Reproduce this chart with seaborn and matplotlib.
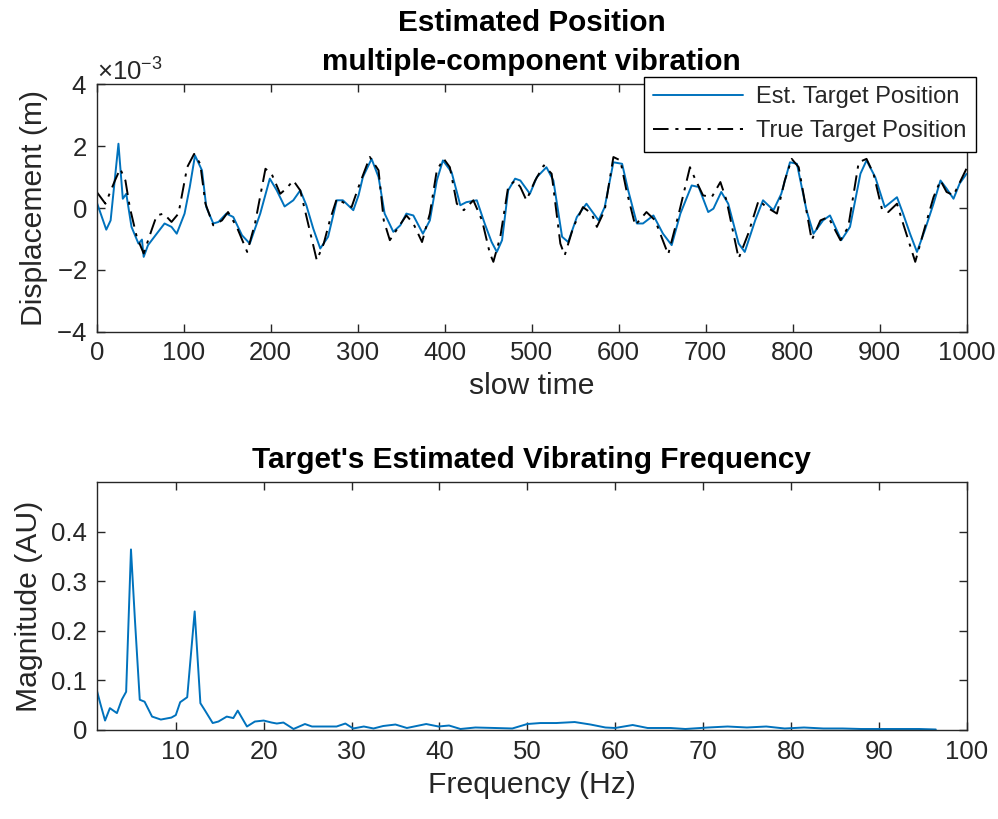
import numpy as np
import pandas as pd
import matplotlib
matplotlib.use("Agg")
import matplotlib.pyplot as plt
from matplotlib.ticker import ScalarFormatter, FixedLocator
import seaborn as sns

# ---------------- data ----------------
# Top panel: slow time samples and displacement (units of 1e-3 m)
est_t = [0, 11, 16, 25, 30, 34, 40, 48, 52, 54,
         59, 69, 78, 86, 92, 101, 107, 113, 121, 126,
         134, 140, 149, 157, 167, 176, 188, 199, 207, 216,
         226, 234, 241, 249, 257, 266, 276, 283, 295, 301,
         306, 316, 324, 331, 341, 349, 356, 364, 375, 383,
         391, 398, 408, 418, 425, 437, 446, 454, 460, 466,
         473, 481, 487, 498, 506, 517, 525, 535, 542, 552,
         563, 577, 584, 594, 604, 611, 621, 628, 640, 651,
         661, 671, 684, 692, 703, 709, 718, 726, 738, 745,
         757, 766, 778, 787, 797, 805, 816, 824, 835, 843,
         856, 866, 878, 885, 895, 906, 920, 927, 935, 943,
         952, 962, 970, 977, 985, 992, 1000]
est_v = [0.19, -0.70, -0.40, 2.08, 0.30, 0.46, -0.61, -1.15, -1.02, -1.58,
         -1.20, -0.83, -0.50, -0.61, -0.83, -0.18, 0.68, 1.70, 1.22, 0.03,
         -0.50, -0.45, -0.18, -0.29, -0.88, -1.15, -0.18, 0.95, 0.57, 0.05,
         0.25, 0.57, 0.09, -0.67, -1.31, -0.93, 0.25, 0.25, -0.07, 0.41,
         1.00, 1.59, 1.00, -0.18, -0.77, -0.56, -0.18, -0.24, -0.83, -0.40,
         0.89, 1.54, 1.16, 0.09, 0.19, 0.25, -0.50, -1.10, -1.42, -1.04,
         0.57, 0.95, 0.89, 0.46, 1.00, 1.32, 0.89, -0.93, -1.10, -0.29,
         0.14, -0.40, 0.03, 1.48, 1.43, 0.57, -0.50, -0.50, -0.24, -0.83,
         -1.20, -0.18, 0.73, 0.68, -0.13, -0.02, 0.52, 0.14, -1.15, -1.42,
         -0.40, 0.25, -0.07, 0.46, 1.48, 1.43, -0.07, -0.83, -0.40, -0.24,
         -1.04, -0.61, 1.11, 1.54, 1.00, 0.03, 0.35, -0.18, -0.83, -1.42,
         -0.72, 0.14, 0.89, 0.63, 0.30, 0.79, 1.11]

true_t = [0, 10, 21, 27, 33, 38, 46, 54, 63, 69,
          77, 86, 94, 104, 112, 119, 125, 134, 144, 151,
          161, 173, 182, 194, 201, 211, 218, 226, 234, 243,
          253, 261, 268, 276, 286, 293, 301, 314, 324, 330,
          337, 347, 356, 364, 374, 383, 391, 399, 406, 414,
          422, 433, 443, 452, 456, 464, 473, 481, 487, 494,
          504, 514, 523, 533, 538, 548, 559, 569, 575, 584,
          594, 602, 609, 619, 632, 642, 657, 669, 682, 687,
          697, 707, 717, 724, 738, 749, 761, 770, 782, 791,
          799, 807, 822, 832, 841, 855, 864, 876, 885, 893,
          903, 910, 920, 927, 941, 950, 962, 970, 977, 985,
          1000]
true_v = [0.52, 0.14, 0.89, 1.27, 0.89, 0.03, -0.93, -1.47, -0.72, -0.24,
          -0.18, -0.45, -0.18, 1.32, 1.75, 1.43, 0.14, -0.56, -0.40, -0.13,
          -0.61, -1.42, -0.50, 1.27, 1.11, 0.46, 0.63, 0.89, 0.57, -0.50,
          -1.69, -1.15, -0.40, 0.30, 0.14, 0.03, 0.68, 1.65, 1.22, -0.40,
          -1.04, -0.61, -0.24, -0.50, -1.10, -0.18, 1.22, 1.59, 1.32, 0.14,
          -0.07, 0.25, -0.40, -1.47, -1.74, -0.93, 0.68, 0.89, 0.68, 0.25,
          0.89, 1.38, 1.11, -1.15, -1.53, -0.61, 0.03, -0.18, -0.61, -0.07,
          1.65, 1.54, 0.57, -0.56, -0.13, -0.40, -1.50, -0.20, 1.32, 1.00,
          0.41, 0.35, 0.84, 0.25, -1.63, -0.83, 0.25, 0.03, -0.18, 0.89,
          1.59, 1.32, -1.04, -0.40, -0.29, -1.04, -0.61, 1.48, 1.59, 1.11,
          -0.07, -0.13, 0.14, -0.50, -1.74, -0.83, 0.35, 0.89, 0.52, 0.41,
          1.28]

# Bottom panel: spectrum
freq = [1.0, 1.4, 1.95, 2.5, 3.3, 3.85, 4.35, 4.9, 5.35, 5.9,
        6.45, 7.3, 8.3, 9.5, 10.0, 10.5, 11.3, 12.15, 12.8, 13.3,
        14.2, 14.85, 15.8, 16.55, 17.05, 18.1, 19.0, 20.0, 20.9, 21.5,
        22.25, 23.4, 24.7, 25.5, 26.8, 28.3, 29.3, 30.2, 31.4, 32.5,
        33.6, 35.0, 36.3, 38.5, 39.9, 41.1, 42.4, 44.1, 46.3, 48.3,
        50.0, 51.5, 53.3, 55.4, 57.2, 58.9, 60.0, 62.0, 63.7, 66.3,
        68.0, 70.6, 72.8, 75.0, 77.2, 79.3, 81.5, 83.7, 85.9, 88.0,
        90.2, 92.4, 94.6, 96.5]
mag = [0.081, 0.054, 0.019, 0.044, 0.034, 0.061, 0.077, 0.364, 0.222, 0.061,
       0.057, 0.027, 0.021, 0.025, 0.030, 0.056, 0.066, 0.239, 0.054, 0.040,
       0.014, 0.017, 0.027, 0.024, 0.039, 0.007, 0.017, 0.019, 0.015, 0.013,
       0.015, 0.002, 0.012, 0.007, 0.007, 0.007, 0.013, 0.003, 0.007, 0.003,
       0.008, 0.011, 0.004, 0.012, 0.007, 0.009, 0.002, 0.005, 0.004, 0.003,
       0.012, 0.014, 0.014, 0.016, 0.011, 0.005, 0.004, 0.010, 0.004, 0.004,
       0.002, 0.005, 0.007, 0.005, 0.007, 0.003, 0.005, 0.003, 0.003, 0.002,
       0.002, 0.002, 0.002, 0.001]

top_xticks = [0, 100, 200, 300, 400, 500, 600, 700, 800, 900, 1000]
top_yticks = [-4, -2, 0, 2, 4]
bot_xticks = [10, 20, 30, 40, 50, 60, 70, 80, 90, 100]
bot_yticks = [0, 0.1, 0.2, 0.3, 0.4]

SCALE = 1e-3

# ---------------- style ----------------
sns.set_theme(style="white")
plt.rcParams["font.family"] = ["Liberation Sans", "DejaVu Sans"]
plt.rcParams["axes.unicode_minus"] = False
plt.rcParams["mathtext.fontset"] = "custom"
plt.rcParams["mathtext.rm"] = "Liberation Sans"
plt.rcParams["mathtext.it"] = "Liberation Sans"

AX_C = (0.15, 0.15, 0.15)
BLUE = "#0072BD"

fig = plt.figure(figsize=(9.98, 8.19), dpi=100)
ax1 = fig.add_axes([0.0969, 0.595, 0.8716, 0.302])
ax2 = fig.add_axes([0.0969, 0.1087, 0.8716, 0.3028])

df_est = pd.DataFrame({"t": est_t, "v": np.array(est_v) * SCALE})
df_true = pd.DataFrame({"t": true_t, "v": np.array(true_v) * SCALE})
df_spec = pd.DataFrame({"f": freq, "m": mag})

sns.lineplot(data=df_est, x="t", y="v", ax=ax1, color=BLUE, lw=1.4,
             estimator=None, sort=False, label="Est. Target Position")
sns.lineplot(data=df_true, x="t", y="v", ax=ax1, color="black", lw=1.4,
             estimator=None, sort=False, label="True Target Position",
             dashes=False)
ax1.lines[-1].set_dashes([8, 3.5, 1.6, 3.5])

sns.lineplot(data=df_spec, x="f", y="m", ax=ax2, color=BLUE, lw=1.4,
             estimator=None, sort=False)

TICK_FS = 18.5
LAB_FS = 21.7
TITLE_FS = 21.4

for ax in (ax1, ax2):
    for sp in ax.spines.values():
        sp.set_color(AX_C)
        sp.set_linewidth(1.0)
        sp.set_visible(True)
    ax.tick_params(direction="in", length=6, width=1.0, color=AX_C,
                   labelcolor=AX_C, labelsize=TICK_FS,
                   top=True, right=True, bottom=True, left=True, pad=7)
    ax.grid(False)
    ax.set_facecolor("white")

# top axis
ax1.set_xlim(0, 1000)
ax1.set_ylim(-4 * SCALE, 4 * SCALE)
ax1.xaxis.set_major_locator(FixedLocator(top_xticks))
ax1.yaxis.set_major_locator(FixedLocator([v * SCALE for v in top_yticks]))
fmt = ScalarFormatter(useMathText=True)
fmt.set_powerlimits((0, 0))
ax1.yaxis.set_major_formatter(fmt)
ax1.yaxis.get_offset_text().set_fontsize(TICK_FS)
ax1.yaxis.get_offset_text().set_color(AX_C)
ax1.set_xlabel("slow time", fontsize=LAB_FS, color=AX_C, labelpad=5)
ax1.set_ylabel("Displacement (m)", fontsize=LAB_FS, color=AX_C, labelpad=6)
ax1.set_title("Estimated Position\nmultiple-component vibration",
              fontsize=TITLE_FS, fontweight="bold", color="black", pad=10,
              linespacing=1.5)

leg = ax1.legend(loc="upper right", bbox_to_anchor=(976 / 998, 1 - 77 / 819),
                 bbox_transform=fig.transFigure, fontsize=17, frameon=True,
                 fancybox=False, edgecolor="black", framealpha=1,
                 handlelength=3.8, borderpad=0.4, labelspacing=0.5,
                 handletextpad=0.55, borderaxespad=0)
leg.get_frame().set_linewidth(1.0)
for txt in leg.get_texts():
    txt.set_color(AX_C)

# bottom axis
ax2.set_xlim(1, 100)
ax2.set_ylim(0, 0.5)
ax2.xaxis.set_major_locator(FixedLocator(bot_xticks))
ax2.yaxis.set_major_locator(FixedLocator(bot_yticks))
ax2.set_yticklabels(["0", "0.1", "0.2", "0.3", "0.4"])
ax2.set_xlabel("Frequency (Hz)", fontsize=LAB_FS, color=AX_C, labelpad=5)
ax2.set_ylabel("Magnitude (AU)", fontsize=LAB_FS, color=AX_C, labelpad=6)
ax2.set_title("Target's Estimated Vibrating Frequency", fontsize=TITLE_FS,
              fontweight="bold", color="black", pad=10)

fig.savefig("out.png", dpi=100, facecolor="white")
